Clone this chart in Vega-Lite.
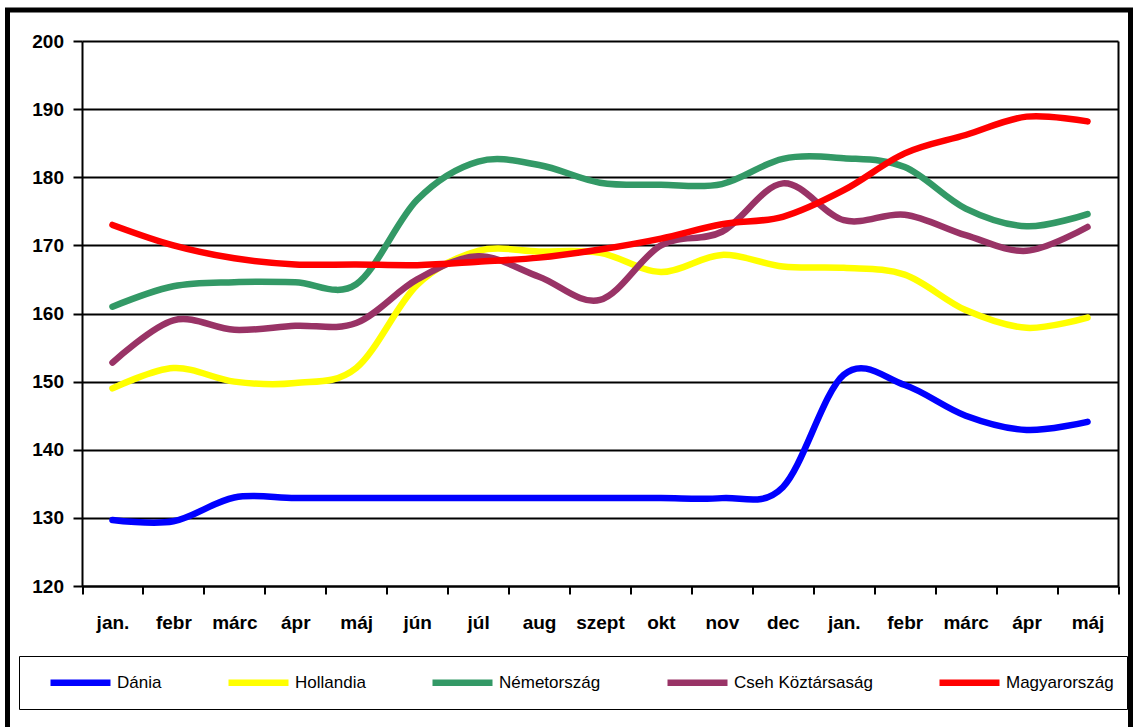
{
  "$schema": "https://vega.github.io/schema/vega-lite/v6.json",
  "width": 1123,
  "height": 722,
  "autosize": {"type": "none"},
  "padding": {"left": 7.5, "top": 10, "right": 3.5, "bottom": -5},
  "background": "white",
  "config": {
    "view": {"stroke": "black", "strokeWidth": 5},
    "font": "Liberation Sans"
  },
  "data": {
    "values": [
      {"honap": "jan.", "orszag": "Dánia", "ertek": 129.7},
      {"honap": "febr", "orszag": "Dánia", "ertek": 129.5},
      {"honap": "márc", "orszag": "Dánia", "ertek": 133.0},
      {"honap": "ápr", "orszag": "Dánia", "ertek": 132.9},
      {"honap": "máj", "orszag": "Dánia", "ertek": 132.9},
      {"honap": "jún", "orszag": "Dánia", "ertek": 132.9},
      {"honap": "júl", "orszag": "Dánia", "ertek": 132.9},
      {"honap": "aug", "orszag": "Dánia", "ertek": 132.9},
      {"honap": "szept", "orszag": "Dánia", "ertek": 132.9},
      {"honap": "okt", "orszag": "Dánia", "ertek": 132.9},
      {"honap": "nov", "orszag": "Dánia", "ertek": 132.9},
      {"honap": "dec", "orszag": "Dánia", "ertek": 134.5},
      {"honap": "jan. ", "orszag": "Dánia", "ertek": 151.0},
      {"honap": "febr ", "orszag": "Dánia", "ertek": 149.5},
      {"honap": "márc ", "orszag": "Dánia", "ertek": 145.0},
      {"honap": "ápr ", "orszag": "Dánia", "ertek": 142.9},
      {"honap": "máj ", "orszag": "Dánia", "ertek": 144.1},

      {"honap": "jan.", "orszag": "Hollandia", "ertek": 149.0},
      {"honap": "febr", "orszag": "Hollandia", "ertek": 152.0},
      {"honap": "márc", "orszag": "Hollandia", "ertek": 150.0},
      {"honap": "ápr", "orszag": "Hollandia", "ertek": 149.8},
      {"honap": "máj", "orszag": "Hollandia", "ertek": 152.0},
      {"honap": "jún", "orszag": "Hollandia", "ertek": 164.2},
      {"honap": "júl", "orszag": "Hollandia", "ertek": 169.2},
      {"honap": "aug", "orszag": "Hollandia", "ertek": 169.1},
      {"honap": "szept", "orszag": "Hollandia", "ertek": 168.9},
      {"honap": "okt", "orszag": "Hollandia", "ertek": 166.1},
      {"honap": "nov", "orszag": "Hollandia", "ertek": 168.6},
      {"honap": "dec", "orszag": "Hollandia", "ertek": 166.9},
      {"honap": "jan. ", "orszag": "Hollandia", "ertek": 166.7},
      {"honap": "febr ", "orszag": "Hollandia", "ertek": 165.7},
      {"honap": "márc ", "orszag": "Hollandia", "ertek": 160.5},
      {"honap": "ápr ", "orszag": "Hollandia", "ertek": 157.9},
      {"honap": "máj ", "orszag": "Hollandia", "ertek": 159.4},

      {"honap": "jan.", "orszag": "Németország", "ertek": 161.0},
      {"honap": "febr", "orszag": "Németország", "ertek": 164.0},
      {"honap": "márc", "orszag": "Németország", "ertek": 164.6},
      {"honap": "ápr", "orszag": "Németország", "ertek": 164.6},
      {"honap": "máj", "orszag": "Németország", "ertek": 164.3},
      {"honap": "jún", "orszag": "Németország", "ertek": 176.7},
      {"honap": "júl", "orszag": "Németország", "ertek": 182.3},
      {"honap": "aug", "orszag": "Németország", "ertek": 181.8},
      {"honap": "szept", "orszag": "Németország", "ertek": 179.2},
      {"honap": "okt", "orszag": "Németország", "ertek": 178.9},
      {"honap": "nov", "orszag": "Németország", "ertek": 179.0},
      {"honap": "dec", "orszag": "Németország", "ertek": 182.7},
      {"honap": "jan. ", "orszag": "Németország", "ertek": 182.8},
      {"honap": "febr ", "orszag": "Németország", "ertek": 181.5},
      {"honap": "márc ", "orszag": "Németország", "ertek": 175.4},
      {"honap": "ápr ", "orszag": "Németország", "ertek": 172.8},
      {"honap": "máj ", "orszag": "Németország", "ertek": 174.6},

      {"honap": "jan.", "orszag": "Cseh Köztársaság", "ertek": 152.8},
      {"honap": "febr", "orszag": "Cseh Köztársaság", "ertek": 159.0},
      {"honap": "márc", "orszag": "Cseh Köztársaság", "ertek": 157.6},
      {"honap": "ápr", "orszag": "Cseh Köztársaság", "ertek": 158.2},
      {"honap": "máj", "orszag": "Cseh Köztársaság", "ertek": 158.6},
      {"honap": "jún", "orszag": "Cseh Köztársaság", "ertek": 165.0},
      {"honap": "júl", "orszag": "Cseh Köztársaság", "ertek": 168.4},
      {"honap": "aug", "orszag": "Cseh Köztársaság", "ertek": 165.4},
      {"honap": "szept", "orszag": "Cseh Köztársaság", "ertek": 162.0},
      {"honap": "okt", "orszag": "Cseh Köztársaság", "ertek": 170.0},
      {"honap": "nov", "orszag": "Cseh Köztársaság", "ertek": 172.0},
      {"honap": "dec", "orszag": "Cseh Köztársaság", "ertek": 179.1},
      {"honap": "jan. ", "orszag": "Cseh Köztársaság", "ertek": 173.7},
      {"honap": "febr ", "orszag": "Cseh Köztársaság", "ertek": 174.5},
      {"honap": "márc ", "orszag": "Cseh Köztársaság", "ertek": 171.5},
      {"honap": "ápr ", "orszag": "Cseh Köztársaság", "ertek": 169.2},
      {"honap": "máj ", "orszag": "Cseh Köztársaság", "ertek": 172.7},

      {"honap": "jan.", "orszag": "Magyarország", "ertek": 173.0},
      {"honap": "febr", "orszag": "Magyarország", "ertek": 170.0},
      {"honap": "márc", "orszag": "Magyarország", "ertek": 168.1},
      {"honap": "ápr", "orszag": "Magyarország", "ertek": 167.2},
      {"honap": "máj", "orszag": "Magyarország", "ertek": 167.2},
      {"honap": "jún", "orszag": "Magyarország", "ertek": 167.1},
      {"honap": "júl", "orszag": "Magyarország", "ertek": 167.6},
      {"honap": "aug", "orszag": "Magyarország", "ertek": 168.2},
      {"honap": "szept", "orszag": "Magyarország", "ertek": 169.4},
      {"honap": "okt", "orszag": "Magyarország", "ertek": 171.0},
      {"honap": "nov", "orszag": "Magyarország", "ertek": 173.1},
      {"honap": "dec", "orszag": "Magyarország", "ertek": 174.2},
      {"honap": "jan. ", "orszag": "Magyarország", "ertek": 178.1},
      {"honap": "febr ", "orszag": "Magyarország", "ertek": 183.5},
      {"honap": "márc ", "orszag": "Magyarország", "ertek": 186.2},
      {"honap": "ápr ", "orszag": "Magyarország", "ertek": 188.9},
      {"honap": "máj ", "orszag": "Magyarország", "ertek": 188.2}
    ]
  },
  "resolve": {"axis": {"y": "independent"}},
  "layer": [
    {
      "mark": {"type": "line", "interpolate": "cardinal", "strokeWidth": 6.5, "strokeCap": "round", "strokeJoin": "round"},
      "encoding": {
        "x": {
          "field": "honap", "type": "ordinal", "sort": null,
          "scale": {"type": "band", "range": [74.5, 1110.5], "paddingInner": 0, "paddingOuter": 0},
          "axis": {
            "title": null, "orient": "bottom", "offset": -146, "tickBand": "extent",
            "labelAngle": 0, "labelExpr": "trim(datum.label)",
            "labelFont": "Liberation Sans", "labelFontWeight": "bold", "labelFontSize": 19,
            "labelColor": "black", "labelBaseline": "alphabetic", "labelPadding": 34,
            "tickColor": "black", "tickSize": 8, "tickWidth": 2,
            "domainColor": "black", "domainWidth": 2, "grid": false
          }
        },
        "y": {
          "field": "ertek", "type": "quantitative",
          "scale": {"domain": [120, 200], "range": [576, 31], "nice": false, "zero": false},
          "axis": {
            "title": null, "values": [120, 130, 140, 150, 160, 170, 180, 190, 200],
            "orient": "left", "offset": -74.5,
            "grid": true, "gridColor": "black", "gridWidth": 2, "gridOpacity": 1,
            "domainColor": "black", "domainWidth": 2,
            "tickColor": "black", "tickSize": 9, "tickWidth": 2,
            "labelFont": "Liberation Sans", "labelFontWeight": "bold", "labelFontSize": 19,
            "labelColor": "black", "labelPadding": 9.5
          }
        },
        "color": {
          "field": "orszag", "type": "nominal",
          "scale": {
            "domain": ["Dánia", "Hollandia", "Németország", "Cseh Köztársaság", "Magyarország"],
            "range": ["#0000FF", "#FFFF00", "#339966", "#993366", "#FF0000"]
          },
          "legend": {
            "orient": "none", "legendX": 11.5, "legendY": 646,
            "direction": "horizontal", "columns": 5,
            "title": " ", "titleOrient": "left", "titlePadding": 15,
            "symbolType": "M-1,0H5", "symbolSize": 400, "symbolStrokeWidth": 6.5,
            "labelFont": "Liberation Sans", "labelFontSize": 17, "labelColor": "black",
            "labelOffset": 43, "labelLimit": 400, "columnPadding": 53,
            "padding": 13, "strokeColor": "black", "fillColor": "white"
          }
        }
      }
    },
    {
      "mark": {"type": "point", "opacity": 0},
      "encoding": {
        "y": {
          "field": "ertek", "type": "quantitative",
          "axis": {
            "title": null, "orient": "right", "offset": -12.5,
            "labels": false, "ticks": false, "grid": false,
            "domainColor": "black", "domainWidth": 2
          }
        }
      }
    }
  ]
}
